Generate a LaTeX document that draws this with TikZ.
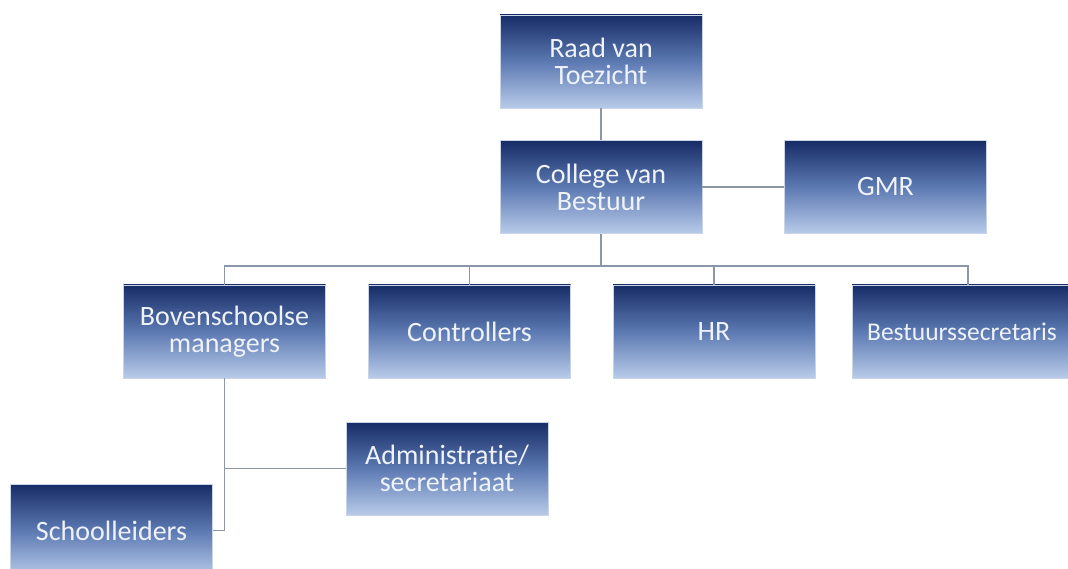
\documentclass[tikz,border=0pt]{standalone}
\usepackage{fontspec}
\setmainfont{Carlito}[Ligatures=NoCommon]
\usepackage{tikz}
\usetikzlibrary{calc}
\usetikzlibrary{positioning}

\definecolor{boxtop}{HTML}{172C66}
\definecolor{boxmid}{HTML}{5C79B2}
\definecolor{boxbot}{HTML}{B8CBE9}
\definecolor{boxline}{HTML}{C9D4E8}
\definecolor{linkgray}{HTML}{8D95A8}
\definecolor{boxtext}{HTML}{EEF2FA}

\tikzset{
    orgbox/.style={rectangle, minimum width=202pt, minimum height=93pt, inner sep=2pt,
        top color=boxtop, bottom color=boxbot, middle color=boxmid,
        draw=boxline, line width=0.6pt, text=boxtext, align=center,
        font=\fontsize{28}{27}\selectfont},
    link/.style={draw=linkgray, line width=1.5pt}
}

\begin{document}
\begin{tikzpicture}[x=1pt, y=-1pt]

    \useasboundingbox (0,0) rectangle (1068,569);

    \node[orgbox] (raad) at (601,61.5) {Raad van\\Toezicht};
    \node[orgbox] (college) at (601,187) {College van\\Bestuur};
    \node[orgbox] (gmr) at (885.5,187) {GMR};

    \node[orgbox] (bovensch) at (224.5,331.5) {Bovenschoolse\\managers};
    \node[orgbox] (contr) at (469.5,331.5) {Controllers};
    \node[orgbox] (hr) at (714,331.5) {HR};
    \node[orgbox, minimum width=220pt, font=\fontsize{25.5}{27}\selectfont] (bestuur) at (962,331.5) {Bestuurssecretaris};

    \node[orgbox] (admin) at (447,468.5) {Administratie/\\secretariaat};
    \node[orgbox] (school) at (111.5,530.5) {Schoolleiders};

    \draw[link] (raad.south) -- (college.north);
    \draw[link] (college.east) -- (gmr.west);

    \draw[link] (college.south) -- ++(0,32) coordinate (bus);
    \draw[link] (bovensch.north) |- (bus) -| ([xshift=6pt]bestuur.north);
    \draw[link] (contr.north) -- (contr.north |- bus);
    \draw[link] (hr.north) -- (hr.north |- bus);

    \draw[link] (bovensch.south) |- (school.east);
    \draw[link] (admin.west) -- (admin.west -| bovensch.south);

\end{tikzpicture}
\end{document}
